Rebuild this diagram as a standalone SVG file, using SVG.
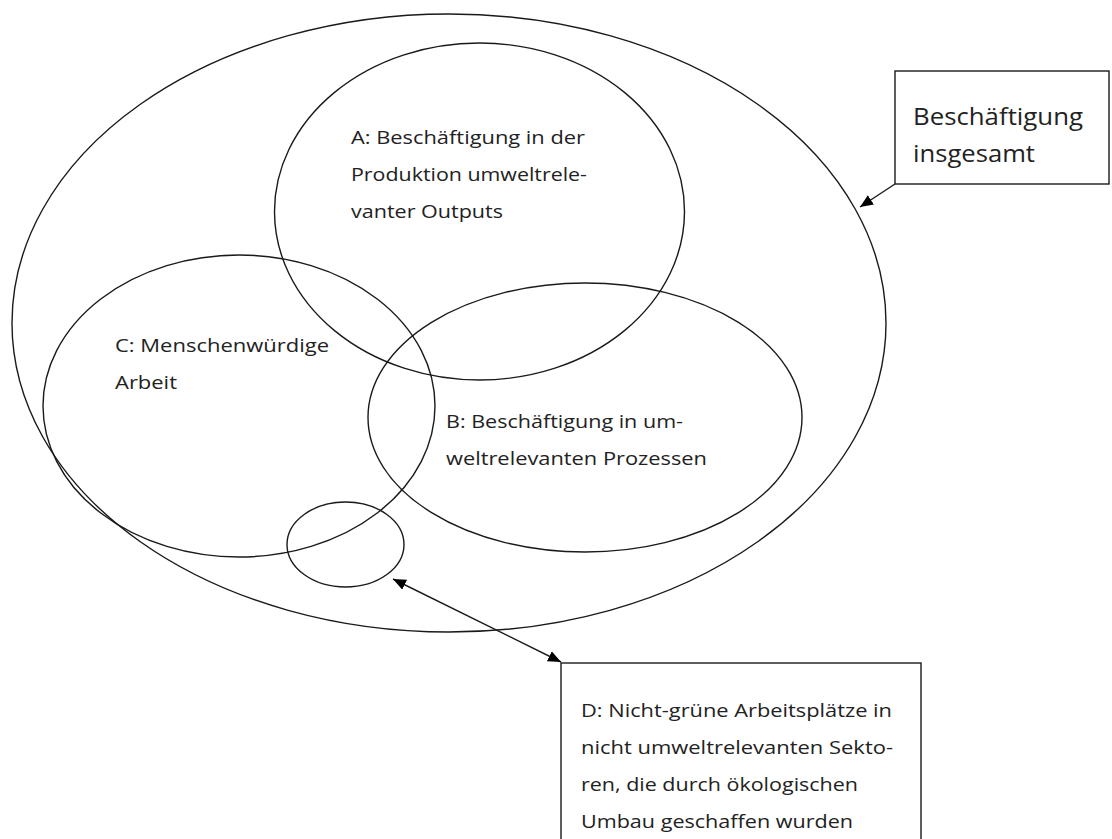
<svg xmlns="http://www.w3.org/2000/svg" width="1112" height="839" viewBox="0 0 1112 839">
<style>
.sh{fill:none;stroke:#1a1a1a;stroke-width:1.4}
.bx{fill:#fff;stroke:#1a1a1a;stroke-width:1.4}
.t{font-family:"Open Sans","Liberation Sans",sans-serif;font-size:17.5px;fill:#222}
.tb{font-family:"Open Sans","Liberation Sans",sans-serif;font-size:23px;fill:#222}
.cn{fill:none;stroke:#1a1a1a;stroke-width:1.4}
</style>
<defs>
<marker id="ah" markerUnits="userSpaceOnUse" markerWidth="14" markerHeight="12" refX="13" refY="5.5" orient="auto-start-reverse">
<path d="M0,0 L13,5.5 L0,11 z" fill="#000"/>
</marker>
</defs>
<rect width="1112" height="839" fill="#fff"/>
<g id="total">
<ellipse class="sh" cx="449" cy="323" rx="437" ry="309"/>
</g>
<g id="A">
<ellipse class="sh" cx="479.5" cy="211.5" rx="205" ry="168.5"/>
<text class="t" x="351" y="144" textLength="234" lengthAdjust="spacingAndGlyphs">A: Beschäftigung in der</text>
<text class="t" x="351" y="181" textLength="236" lengthAdjust="spacingAndGlyphs">Produktion umweltrele-</text>
<text class="t" x="351" y="218" textLength="152" lengthAdjust="spacingAndGlyphs">vanter Outputs</text>
</g>
<g id="C">
<ellipse class="sh" cx="239" cy="406" rx="196" ry="151"/>
<text class="t" x="115" y="352" textLength="214" lengthAdjust="spacingAndGlyphs">C: Menschenwürdige</text>
<text class="t" x="115" y="389" textLength="62" lengthAdjust="spacingAndGlyphs">Arbeit</text>
</g>
<g id="B">
<ellipse class="sh" cx="585" cy="417.5" rx="217" ry="134.5"/>
<text class="t" x="446" y="428" textLength="237" lengthAdjust="spacingAndGlyphs">B: Beschäftigung in um-</text>
<text class="t" x="446" y="465" textLength="261" lengthAdjust="spacingAndGlyphs">weltrelevanten Prozessen</text>
</g>
<g id="D-circle">
<ellipse class="sh" cx="345.5" cy="544.5" rx="58.5" ry="42.5"/>
</g>
<g id="box-total">
<rect class="bx" x="895" y="71" width="214" height="113"/>
<text class="tb" x="913" y="125" textLength="170" lengthAdjust="spacingAndGlyphs">Beschäftigung</text>
<text class="tb" x="913" y="162" textLength="122" lengthAdjust="spacingAndGlyphs">insgesamt</text>
</g>
<g id="box-D">
<rect class="bx" x="561" y="663" width="360" height="200"/>
<text class="t" x="581" y="717" textLength="311" lengthAdjust="spacingAndGlyphs">D: Nicht-grüne Arbeitsplätze in</text>
<text class="t" x="581" y="754" textLength="312" lengthAdjust="spacingAndGlyphs">nicht umweltrelevanten Sekto-</text>
<text class="t" x="581" y="791" textLength="277" lengthAdjust="spacingAndGlyphs">ren, die durch ökologischen</text>
<text class="t" x="581" y="828" textLength="272" lengthAdjust="spacingAndGlyphs">Umbau geschaffen wurden</text>
</g>
<g id="connectors">
<line class="cn" x1="895" y1="184" x2="860" y2="207" marker-end="url(#ah)"/>
<line class="cn" x1="393" y1="579" x2="561" y2="662" marker-start="url(#ah)" marker-end="url(#ah)"/>
</g>
</svg>
